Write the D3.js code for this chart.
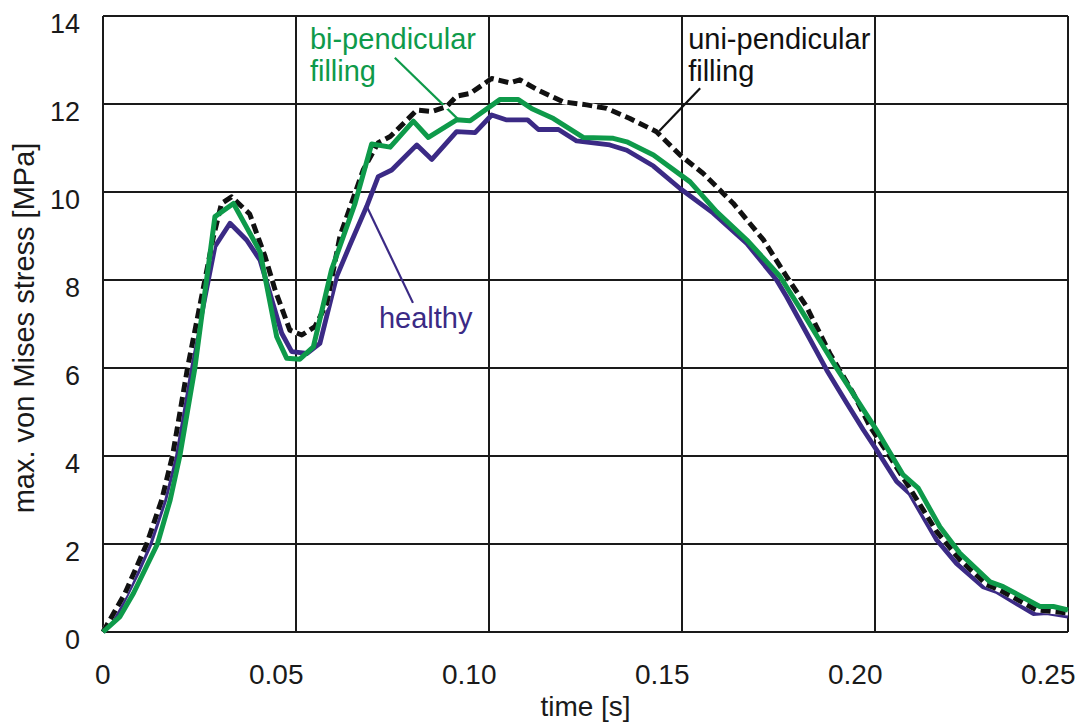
<!DOCTYPE html>
<html>
<head>
<meta charset="utf-8">
<script src="https://cdn.jsdelivr.net/npm/d3@7"></script>
<style>
  body { margin: 0; background: #fff; }
  text { font-family: "Liberation Sans", Arial, sans-serif; fill: #1a1a1a; }
  .grid line { stroke: #1a1a1a; stroke-width: 2px; }
  .line { fill: none; stroke-linejoin: round; }
</style>
</head>
<body>
<svg width="1081" height="724"></svg>
<script>
// healthy (purple)
var healthyT = [0, 0.003, 0.0061, 0.0092, 0.0122, 0.016, 0.0189, 0.0228, 0.029, 0.0329, 0.0372, 0.0407, 0.0463, 0.0489, 0.0528, 0.0562, 0.0605, 0.064, 0.0683, 0.0713, 0.0748, 0.0813, 0.0852, 0.0916, 0.0964, 0.1007, 0.1044, 0.11, 0.1128, 0.118, 0.1227, 0.1313, 0.1357, 0.1426, 0.1495, 0.1581, 0.1668, 0.1745, 0.1771, 0.1823, 0.1875, 0.1927, 0.197, 0.2004, 0.2056, 0.209, 0.216, 0.2211, 0.228, 0.2315, 0.241, 0.2445, 0.25];
var healthyV = [0, 0.3, 0.85, 1.4, 2.0, 3.0, 4.0, 6.0, 8.76, 9.29, 8.91, 8.45, 6.79, 6.37, 6.33, 6.56, 8.07, 8.8, 9.67, 10.35, 10.5, 11.07, 10.74, 11.37, 11.35, 11.75, 11.64, 11.64, 11.42, 11.42, 11.16, 11.07, 10.95, 10.59, 10.08, 9.52, 8.83, 8.0, 7.62, 6.79, 5.95, 5.2, 4.59, 4.14, 3.42, 3.15, 2.09, 1.56, 1.03, 0.92, 0.42, 0.44, 0.36];

// bi-pendicular filling (green)
var biT = [0, 0.0044, 0.0079, 0.0141, 0.0174, 0.0199, 0.0238, 0.029, 0.0338, 0.0407, 0.045, 0.0476, 0.051, 0.0545, 0.0592, 0.0653, 0.0696, 0.0744, 0.0804, 0.0843, 0.0916, 0.0951, 0.1028, 0.1076, 0.111, 0.1167, 0.1244, 0.1322, 0.1357, 0.1426, 0.1521, 0.159, 0.1668, 0.1754, 0.1814, 0.1901, 0.2004, 0.2073, 0.2112, 0.2168, 0.222, 0.2298, 0.2332, 0.2427, 0.2462, 0.25];
var biV = [0, 0.35, 0.88, 2.0, 3.0, 4.0, 6.0, 9.44, 9.74, 8.64, 6.71, 6.22, 6.2, 6.48, 8.23, 9.74, 11.09, 11.02, 11.61, 11.24, 11.64, 11.62, 12.1, 12.1, 11.9, 11.67, 11.24, 11.22, 11.14, 10.84, 10.23, 9.55, 8.91, 8.08, 7.24, 5.99, 4.59, 3.57, 3.27, 2.39, 1.79, 1.14, 1.03, 0.58, 0.58, 0.5];

// uni-pendicular filling (black dashed)
var uniT = [0, 0.0057, 0.0113, 0.0152, 0.018, 0.0219, 0.0286, 0.0307, 0.0333, 0.038, 0.042, 0.0446, 0.0484, 0.0515, 0.0549, 0.058, 0.0614, 0.0674, 0.0713, 0.0744, 0.0813, 0.0852, 0.089, 0.0916, 0.0951, 0.1007, 0.1054, 0.108, 0.1124, 0.1192, 0.1253, 0.1305, 0.1365, 0.1434, 0.1495, 0.1555, 0.1633, 0.1711, 0.1771, 0.1823, 0.1883, 0.1944, 0.1987, 0.2022, 0.209, 0.216, 0.222, 0.2289, 0.2324, 0.2419, 0.25];
var uniV = [0, 0.88, 2.0, 3.0, 4.0, 6.0, 8.98, 9.74, 9.89, 9.5, 8.53, 7.77, 6.86, 6.75, 6.94, 7.47, 9.0, 10.5, 11.12, 11.26, 11.86, 11.83, 11.94, 12.18, 12.24, 12.58, 12.48, 12.55, 12.33, 12.05, 11.98, 11.9, 11.67, 11.37, 10.84, 10.42, 9.74, 8.91, 8.08, 7.39, 6.33, 5.42, 4.67, 4.21, 3.27, 2.28, 1.64, 1.08, 0.95, 0.5, 0.43];

var xTicks = [0, 0.05, 0.10, 0.15, 0.20, 0.25];
var xTickLabels = ["0", "0.05", "0.10", "0.15", "0.20", "0.25"];
var yTicks = [0, 2, 4, 6, 8, 10, 12, 14];

// annotation labels and leader lines, in data units
var labelText = [["bi-pendicular", "filling"], ["uni-pendicular", "filling"], ["healthy"]];
var labelT = [0.0536, 0.1516, 0.0715];
var labelV = [13.25, 13.25, 6.91];
var leaderT = [[0.0756, 0.0925], [0.1547, 0.1438], [0.0684, 0.0803]];
var leaderV = [[13.05, 11.61], [12.36, 11.36], [9.66, 7.48]];

var svg = d3.select("svg"),
    margin = {top: 16, right: 13, bottom: 92, left: 103},
    width = +svg.attr("width") - margin.left - margin.right,
    height = +svg.attr("height") - margin.top - margin.bottom,
    g = svg.append("g").attr("transform", "translate(" + margin.left + "," + margin.top + ")");

var green = "#0e9a4a", purple = "#3b2a85", black = "#111";
var colors = [green, black, purple];

var x = d3.scaleLinear().domain([0, 0.25]).range([0, width]);
var y = d3.scaleLinear().domain([0, 14]).range([height, 0]);

function pts(ts, vs) {
  return ts.map(function(t, i) { return {t: t, v: vs[i]}; });
}

var line = d3.line()
    .x(function(d) { return x(d.t); })
    .y(function(d) { return y(d.v); });

// grid
var grid = g.append("g").attr("class", "grid");
grid.selectAll(".vx")
  .data(xTicks)
  .enter().append("line")
    .attr("x1", function(d) { return x(d); })
    .attr("x2", function(d) { return x(d); })
    .attr("y1", 0)
    .attr("y2", height);
grid.selectAll(".hy")
  .data(yTicks)
  .enter().append("line")
    .attr("x1", 0)
    .attr("x2", width)
    .attr("y1", function(d) { return y(d); })
    .attr("y2", function(d) { return y(d); });

// axes (labels only, grid does the lines)
var xAxis = g.append("g")
    .attr("transform", "translate(0," + height + ")")
    .call(d3.axisBottom(x).tickValues(xTicks).tickSize(0).tickPadding(0)
      .tickFormat(function(d, i) { return xTickLabels[i]; }));
xAxis.select(".domain").remove();
xAxis.selectAll("text")
    .attr("y", 52)
    .attr("dy", 0)
    .attr("dx", 7)
    .style("text-anchor", "end")
    .style("font-size", "28px")
    .style("font-family", "Liberation Sans, Arial, sans-serif")
    .attr("fill", "#1a1a1a");

var yAxis = g.append("g")
    .call(d3.axisLeft(y).tickValues(yTicks).tickSize(0).tickPadding(23));
yAxis.select(".domain").remove();
yAxis.selectAll("text")
    .attr("dy", "0.6em")
    .style("font-size", "27px")
    .style("font-family", "Liberation Sans, Arial, sans-serif")
    .attr("fill", "#1a1a1a");

svg.append("text")
    .attr("transform", "translate(34," + (margin.top + height / 2 + 4) + ") rotate(-90)")
    .style("text-anchor", "middle")
    .style("font-size", "29px")
    .text("max. von Mises stress [MPa]");

svg.append("text")
    .attr("x", margin.left + width / 2)
    .attr("y", 716)
    .style("text-anchor", "middle")
    .style("font-size", "28px")
    .text("time [s]");

// leader lines
g.selectAll(".leader")
  .data(leaderT)
  .enter().append("line")
    .attr("class", "leader")
    .attr("x1", function(d) { return x(d[0]); })
    .attr("x2", function(d) { return x(d[1]); })
    .attr("y1", function(d, i) { return y(leaderV[i][0]); })
    .attr("y2", function(d, i) { return y(leaderV[i][1]); })
    .attr("stroke", function(d, i) { return colors[i]; })
    .attr("stroke-width", 2.2);

// curves
g.append("path")
    .datum(pts(healthyT, healthyV))
    .attr("class", "line")
    .attr("stroke", purple)
    .attr("stroke-width", 4.8)
    .attr("d", line);

g.append("path")
    .datum(pts(uniT, uniV))
    .attr("class", "line")
    .attr("stroke", "#fff")
    .attr("stroke-width", 5)
    .attr("d", line);

g.append("path")
    .datum(pts(uniT, uniV))
    .attr("class", "line")
    .attr("stroke", black)
    .attr("stroke-width", 5)
    .attr("stroke-linejoin", "miter")
    .attr("stroke-dasharray", "10,5")
    .attr("d", line);

g.append("path")
    .datum(pts(biT, biV))
    .attr("class", "line")
    .attr("stroke", green)
    .attr("stroke-width", 5)
    .attr("d", line);

// annotation text
labelText.forEach(function(lines, i) {
  var t = g.append("text")
      .attr("x", x(labelT[i]))
      .attr("y", y(labelV[i]))
      .style("font-size", "29px")
      .style("fill", colors[i]);
  lines.forEach(function(s, j) {
    t.append("tspan")
        .attr("x", x(labelT[i]))
        .attr("dy", j === 0 ? 0 : 32)
        .text(s);
  });
});
</script>
</body>
</html>
